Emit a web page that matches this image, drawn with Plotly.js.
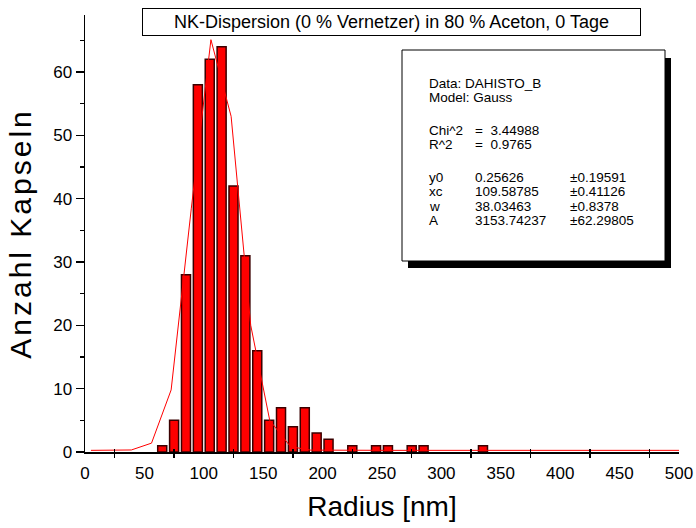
<!DOCTYPE html>
<html>
<head>
<meta charset="utf-8">
<script src="https://cdn.plot.ly/plotly-3.0.1.min.js"></script>
<style>
  html, body { margin: 0; padding: 0; background: #fff; }
  #chart { width: 696px; height: 528px; }
  .ytitle { letter-spacing: 3px; }
</style>
</head>
<body>
<div id="chart"></div>
<script>
// ---- Data ----
var binCenters = [65, 75, 85, 95, 105, 115, 125, 135, 145, 155, 165, 175, 185, 195, 205, 225, 245, 255, 275, 285, 335];
var binCounts  = [1, 5, 28, 58, 62, 64, 42, 31, 16, 5, 7, 4, 7, 3, 2, 1, 1, 1, 1, 1, 1];

var fitX = [5, 22, 39, 56, 72.5, 89.5, 106, 123, 139.5, 155.5, 173, 190, 207, 224, 241, 258, 275, 292, 309, 326, 343, 360, 377, 394, 411, 428, 445, 462, 479, 500];
var fitY = [0.26, 0.26, 0.32, 1.4, 9.8, 38.5, 65.1, 53, 20, 5, 0.84, 0.3, 0.26, 0.26, 0.26, 0.26, 0.26, 0.26, 0.26, 0.26, 0.26, 0.26, 0.26, 0.26, 0.26, 0.26, 0.26, 0.26, 0.26, 0.26];

var xLabelVals = [0, 50, 100, 150, 200, 250, 300, 350, 400, 450, 500];
var xTickMarks = [25, 75, 125, 175, 225, 275, 325, 375, 425, 475];

var chartTitle = "NK-Dispersion (0 % Vernetzer) in 80 % Aceton, 0 Tage";
var xTitle = "Radius [nm]";
var yTitle = "Anzahl Kapseln";

var headerLines = ["Data: DAHISTO_B", "Model: Gauss"];
var qualityNames = ["Chi^2", "R^2"];
var qualityValues = ["=  3.44988", "=  0.9765"];
var paramNames = ["y0", "xc", "w", "A"];
var paramValues = ["0.25626", "109.58785", "38.03463", "3153.74237"];
var paramErrors = ["\u00b10.19591", "\u00b10.41126", "\u00b10.8378", "\u00b162.29805"];

// ---- Layout geometry ----
var W = 696, H = 528;
var mL = 85, mR = 17, mT = 15, mB = 76;
var pw = W - mL - mR, ph = H - mT - mB;
function px(x) { return (x - mL) / pw; }
function py(y) { return (H - mB - y) / ph; }

var FONT = "Liberation Sans, Arial, sans-serif";

var traces = [
  {
    type: "bar",
    x: binCenters,
    y: binCounts,
    width: 7.6,
    marker: { color: "#ff0000", line: { color: "#3a0000", width: 1.5 } },
    hoverinfo: "x+y",
    showlegend: false
  },
  {
    type: "scatter",
    mode: "lines",
    x: fitX,
    y: fitY,
    xaxis: "x2",
    line: { color: "#ff0000", width: 1 },
    showlegend: false
  }
];

var annotations = [];
annotations.push({
  xref: "paper", yref: "paper",
  x: px(391.5), y: py(22), xanchor: "center", yanchor: "middle",
  text: chartTitle, showarrow: false,
  font: { family: FONT, size: 18, color: "#000" },
  bgcolor: "#fff", bordercolor: "#000", borderwidth: 1,
  width: 495, height: 24, align: "center"
});

function addLine(text, xpx, ypx) {
  annotations.push({
    xref: "paper", yref: "paper",
    x: px(xpx), y: py(ypx), xanchor: "left", yanchor: "middle",
    text: text, showarrow: false,
    font: { family: FONT, size: 13.5, color: "#000" }
  });
}
var c1 = 427, c2 = 473, c3 = 568;
addLine(headerLines[0], c1, 83);
addLine(headerLines[1], c1, 97.5);
var qRows = [130, 144.5];
for (var i = 0; i < qualityNames.length; i++) {
  addLine(qualityNames[i], c1, qRows[i]);
  addLine(qualityValues[i], c2, qRows[i]);
}
var pRows = [177, 191.5, 206, 220.5];
for (var j = 0; j < paramNames.length; j++) {
  addLine(paramNames[j], c1, pRows[j]);
  addLine(paramValues[j], c2, pRows[j]);
  addLine(paramErrors[j], c3, pRows[j]);
}

var shapes = [
  { type: "rect", xref: "paper", yref: "paper", layer: "above",
    x0: px(408), x1: px(671), y0: py(268), y1: py(58),
    fillcolor: "#000", line: { width: 0 } },
  { type: "rect", xref: "paper", yref: "paper", layer: "above",
    x0: px(402), x1: px(665), y0: py(261), y1: py(50),
    fillcolor: "#fff", line: { color: "#000", width: 1 } }
];

var layout = {
  width: W, height: H,
  margin: { l: mL, r: mR, t: mT, b: mB, pad: 0 },
  paper_bgcolor: "#fff", plot_bgcolor: "#fff",
  font: { family: FONT, color: "#000" },
  bargap: 0,
  xaxis: {
    range: [0, 500],
    tickmode: "array",
    tickvals: xLabelVals,
    ticks: "outside", ticklen: 5, tickcolor: "rgba(0,0,0,0)",
    minor: { tickmode: "array", tickvals: xTickMarks, ticks: "outside", ticklen: 4, tickwidth: 1.5, tickcolor: "#000" },
    tickfont: { family: FONT, size: 17, color: "#000" },
    showline: true, linecolor: "#000", linewidth: 1.5,
    showgrid: false, zeroline: false,
    title: { text: xTitle, font: { family: FONT, size: 28, color: "#000" }, standoff: 14 }
  },
  xaxis2: {
    overlaying: "x", anchor: "y",
    range: [0, 500],
    tickmode: "array", tickvals: xTickMarks,
    ticks: "inside", ticklen: 3, tickwidth: 1.5, tickcolor: "#000",
    showticklabels: false, showline: false, showgrid: false, zeroline: false
  },
  yaxis: {
    range: [0, 69],
    tick0: 0, dtick: 10,
    ticks: "outside", ticklen: 8, tickwidth: 1.5, tickcolor: "#000",
    minor: { dtick: 5, ticks: "outside", ticklen: 4, tickwidth: 1.5, tickcolor: "#000" },
    tickfont: { family: FONT, size: 17, color: "#000" },
    showline: true, linecolor: "#000", linewidth: 1.5,
    showgrid: false, zeroline: false,
    title: { text: yTitle, font: { family: FONT, size: 30, color: "#000" }, standoff: 12 }
  },
  annotations: annotations,
  shapes: shapes
};

Plotly.newPlot("chart", traces, layout, { displayModeBar: false, staticPlot: true });
</script>
</body>
</html>
